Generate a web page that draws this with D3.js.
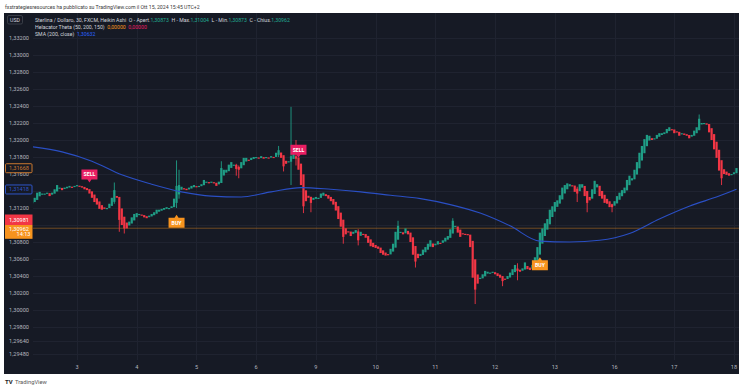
<!DOCTYPE html>
<html>
<head>
<meta charset="utf-8">
<script src="https://cdn.jsdelivr.net/npm/d3@7"></script>
<style>
	html, body { margin: 0; padding: 0; background: #fff; }
	svg { display: block; font-family: Roboto, "Noto Sans", sans-serif; }
</style>
</head>
<body>
<svg id="chart" width="743" height="390"></svg>
<script>
// Heikin Ashi closes, one per hour, Sep 2 06:00 -> Sep 18 01:00
const closes = [
	// 2
	1.3127, 1.3132, 1.3138, 1.3139, 1.3137, 1.3137, 1.3138, 1.3134, 1.3138, 1.3142, 1.3147, 1.3144, 1.3141, 1.3144, 1.3145, 1.3146, 1.3145, 1.3146,
	// 3
	1.3147, 1.3145, 1.3144, 1.3142, 1.3141, 1.3137, 1.3132, 1.3127, 1.3124, 1.3119, 1.3118, 1.3119, 1.3120, 1.3125, 1.3132, 1.3141, 1.3132, 1.3106, 1.3100, 1.3096, 1.3096, 1.3104, 1.3109, 1.3113,
	// 4
	1.3114, 1.3113, 1.3111, 1.3109, 1.3108, 1.3111, 1.3113, 1.3115, 1.3118, 1.3118, 1.3119, 1.3120, 1.3121, 1.3120, 1.3122, 1.3131, 1.3146, 1.3147, 1.3145, 1.3142, 1.3141, 1.3144, 1.3146, 1.3147,
	// 5
	1.3145, 1.3146, 1.3148, 1.3153, 1.3151, 1.3149, 1.3151, 1.3149, 1.3146, 1.3151, 1.3167, 1.3165, 1.3165, 1.3171, 1.3174, 1.3171, 1.3166, 1.3165, 1.3174, 1.3179, 1.3179, 1.3176, 1.3179, 1.3180,
	// 6
	1.3180, 1.3178, 1.3181, 1.3178, 1.3180, 1.3179, 1.3181, 1.3180, 1.3185, 1.3188, 1.3179, 1.3169, 1.3172, 1.3175, 1.3181, 1.3184, 1.3178, 1.3165, 1.3147, 1.3122, 1.3128, 1.3132, 1.3126, 1.3132,
	// 9
	1.3133, 1.3132, 1.3137, 1.3138, 1.3134, 1.3131, 1.3128, 1.3124, 1.3117, 1.3107, 1.3098, 1.3086, 1.3089, 1.3092, 1.3087, 1.3092, 1.3094, 1.3082, 1.3092, 1.3089, 1.3085, 1.3079, 1.3075, 1.3074,
	// 10
	1.3073, 1.3072, 1.3067, 1.3065, 1.3064, 1.3065, 1.3072, 1.3078, 1.3092, 1.3099, 1.3092, 1.3089, 1.3096, 1.3089, 1.3080, 1.3065, 1.3057, 1.3061, 1.3066, 1.3071, 1.3074, 1.3078, 1.3082, 1.3074,
	// 11
	1.3078, 1.3081, 1.3079, 1.3082, 1.3085, 1.3087, 1.3095, 1.3105, 1.3099, 1.3091, 1.3086, 1.3089, 1.3089, 1.3088, 1.3074, 1.3038, 1.3024, 1.3031, 1.3038, 1.3042, 1.3046, 1.3045, 1.3044, 1.3045,
	// 12
	1.3042, 1.3040, 1.3038, 1.3034, 1.3036, 1.3040, 1.3044, 1.3048, 1.3053, 1.3046, 1.3045, 1.3049, 1.3056, 1.3048, 1.3047, 1.3053, 1.3062, 1.3074, 1.3091, 1.3096, 1.3102, 1.3107, 1.3118, 1.3122,
	// 13
	1.3127, 1.3129, 1.3135, 1.3144, 1.3147, 1.3149, 1.3148, 1.3146, 1.3139, 1.3137, 1.3148, 1.3148, 1.3134, 1.3126, 1.3129, 1.3142, 1.3152, 1.3148, 1.3134, 1.3131, 1.3126, 1.3125, 1.3121, 1.3121,
	// 16
	1.3128, 1.3134, 1.3138, 1.3141, 1.3144, 1.3153, 1.3158, 1.3155, 1.3165, 1.3174, 1.3185, 1.3193, 1.3201, 1.3206, 1.3205, 1.3200, 1.3202, 1.3206, 1.3208, 1.3208, 1.3209, 1.3213, 1.3215, 1.3212,
	// 17
	1.3208, 1.3209, 1.3205, 1.3208, 1.3206, 1.3205, 1.3202, 1.3206, 1.3211, 1.3215, 1.3225, 1.3220, 1.3220, 1.3218, 1.3209, 1.3200, 1.3189, 1.3179, 1.3164, 1.3155, 1.3160, 1.3159, 1.3158, 1.3160,
	// 18
	1.3162, 1.3167
];

// [bar, high, low] for the visible wicks
const wicks = [
	[33, 1.3150, 1.3125], [35, 1.3120, 1.3092], [37, 1.3100, 1.3090], [58, 1.3176, 1.3120],
	[59, 1.3165, 1.3131], [76, 1.3175, 1.3150], [82, 1.3172, 1.3158], [83, 1.3170, 1.3155],
	[99, 1.3193, 1.3180], [101, 1.3180, 1.3163], [104, 1.3239, 1.3147], [106, 1.3200, 1.3170],
	[109, 1.3140, 1.3114], [112, 1.3132, 1.3115], [125, 1.3095, 1.3078], [131, 1.3095, 1.3076],
	[147, 1.3105, 1.3090], [154, 1.3065, 1.3050], [169, 1.3108, 1.3095], [178, 1.3040, 1.3007],
	[189, 1.3040, 1.3028], [195, 1.3055, 1.3035], [219, 1.3145, 1.3127], [223, 1.3133, 1.3115],
	[233, 1.3125, 1.3115], [268, 1.3230, 1.3215], [277, 1.3162, 1.3147]
];

// SMA(200) read every 12 bars: [bar, value]
const smaPoints = [
	[0, 1.3192], [12, 1.3186], [24, 1.3175], [36, 1.3159], [48, 1.3148], [60, 1.3139],
	[72, 1.3134], [84, 1.3133], [96, 1.3139], [108, 1.3144], [120, 1.3142], [132, 1.3139],
	[144, 1.3135], [156, 1.3131], [168, 1.3124], [180, 1.3114], [192, 1.3099], [204, 1.3081],
	[216, 1.3080], [228, 1.3082], [240, 1.3090], [252, 1.3107], [264, 1.3122], [276, 1.3134],
	[283, 1.3142]
];

const signals = [
	{ bar: 23, price: 1.3150, type: "SELL" },
	{ bar: 58, price: 1.3112, type: "BUY" },
	{ bar: 107, price: 1.3179, type: "SELL" },
	{ bar: 204, price: 1.3062, type: "BUY" }
];

const dayLabels = ["3", "4", "5", "6", "9", "10", "11", "12", "13", "16", "17", "18"];
const firstDayBar = 18, barsPerDay = 24;
const priceTicks = [1.332, 1.330, 1.328, 1.326, 1.324, 1.322, 1.320, 1.318, 1.316, 1.314, 1.312, 1.310,
	1.308, 1.306, 1.304, 1.302, 1.300, 1.298, 1.2964, 1.2948];
// these two sit under the tags on the price scale
const hiddenTicks = [1.314, 1.310];

const lastPrice = 1.30962;
const scaleTags = [
	{ value: "1,31668", price: 1.31668, color: "#c9782f" },
	{ value: "1,31418", price: 1.31418, color: "#2f55c8" }
];

const COL = {
	bg: "#161a25", grid: "#1f2330", text: "#b2b5be", label: "#d1d4dc",
	up: "#1f9e86", down: "#f23645", sma: "#2a4fc4", buy: "#f7931e", sell: "#e91e63",
	green: "#22ab94", orange: "#f7931e", pink: "#e91e63", blue: "#2962ff"
};

const svg = d3.select("#chart");
const W = 743, H = 390;
const panel = { x: 4, y: 13, w: 735, h: 361 };
const plot = { left: 33, right: 739, top: 13, bottom: 360 };
const fs = "5.6px";

const fmt = v => d3.format(".5f")(v).replace(".", ",");

const x = d3.scaleLinear().domain([18, 282]).range([77, 734]);
const y = d3.scaleLinear().domain([1.2948, 1.3320]).range([354.2, 38]);

svg.append("rect").attr("width", W).attr("height", H).attr("fill", "#fff");
svg.append("rect")
	.attr("x", panel.x).attr("y", panel.y).attr("width", panel.w).attr("height", panel.h)
	.attr("fill", COL.bg);

svg.append("defs").append("clipPath").attr("id", "plotclip")
	.append("rect")
	.attr("x", plot.left).attr("y", plot.top)
	.attr("width", plot.right - plot.left).attr("height", plot.bottom - plot.top);

// grid
const grid = svg.append("g").attr("stroke", COL.grid).attr("stroke-width", 1);
grid.selectAll("line.h").data(priceTicks).join("line")
	.attr("class", "h")
	.attr("x1", plot.left).attr("x2", plot.right)
	.attr("y1", d => Math.round(y(d)) + 0.5).attr("y2", d => Math.round(y(d)) + 0.5);
grid.selectAll("line.v").data(dayLabels).join("line")
	.attr("class", "v")
	.attr("x1", (d, i) => Math.round(x(firstDayBar + i * barsPerDay)) + 0.5)
	.attr("x2", (d, i) => Math.round(x(firstDayBar + i * barsPerDay)) + 0.5)
	.attr("y1", plot.top).attr("y2", plot.bottom);

// price axis (left)
svg.append("g").selectAll("text").data(priceTicks.filter(d => !hiddenTicks.includes(d))).join("text")
	.attr("x", 9).attr("y", d => y(d))
	.attr("dy", "0.35em")
	.attr("font-size", fs).attr("fill", COL.text)
	.text(fmt);

// day axis
svg.append("g").selectAll("text").data(dayLabels).join("text")
	.attr("x", (d, i) => x(firstDayBar + i * barsPerDay)).attr("y", 367)
	.attr("dy", "0.35em").attr("text-anchor", "middle")
	.attr("font-size", fs).attr("fill", COL.text)
	.text(d => d);

const plotG = svg.append("g").attr("clip-path", "url(#plotclip)");

// last price line
plotG.append("line")
	.attr("x1", plot.left).attr("x2", plot.right)
	.attr("y1", y(lastPrice)).attr("y2", y(lastPrice))
	.attr("stroke", "#f7931e").attr("stroke-opacity", 0.4).attr("stroke-width", 1);

// Heikin Ashi candles
const candles = [];
closes.forEach((c, i) => {
	const prev = candles[i - 1];
	const o = prev ? (prev.o + prev.c) / 2 : c;
	candles.push({ i, o, c });
});
const wickMap = new Map(wicks.map(w => [w[0], w]));

const bw = 2.2;
plotG.append("g").selectAll("line").data(candles.filter(d => wickMap.has(d.i))).join("line")
	.attr("x1", d => x(d.i)).attr("x2", d => x(d.i))
	.attr("y1", d => y(wickMap.get(d.i)[1])).attr("y2", d => y(wickMap.get(d.i)[2]))
	.attr("stroke", d => d.c >= d.o ? COL.up : COL.down)
	.attr("stroke-width", 0.9);
plotG.append("g").selectAll("rect").data(candles).join("rect")
	.attr("x", d => x(d.i) - bw / 2)
	.attr("width", bw)
	.attr("y", d => y(Math.max(d.o, d.c)))
	.attr("height", d => Math.max(1.2, Math.abs(y(d.o) - y(d.c))))
	.attr("fill", d => d.c >= d.o ? COL.up : COL.down);

// SMA
const smaLine = d3.line()
	.x(d => x(d[0])).y(d => y(d[1]))
	.curve(d3.curveMonotoneX);
plotG.append("path").datum(smaPoints)
	.attr("d", smaLine)
	.attr("fill", "none").attr("stroke", COL.sma).attr("stroke-width", 1.1);

// BUY / SELL markers
const sig = plotG.append("g").selectAll("g").data(signals).join("g")
	.attr("transform", d => `translate(${x(d.bar)}, ${y(d.price)})`);
sig.append("path")
	.attr("d", d => d.type === "SELL"
		? "M-8,-13 h16 v10 h-6 l-2,3 l-2,-3 h-6 z"
		: "M-8,3 h6 l2,-3 l2,3 h6 v10 h-16 z")
	.attr("fill", d => d.type === "SELL" ? COL.sell : COL.buy);
sig.append("text")
	.attr("y", d => d.type === "SELL" ? -8 : 8)
	.attr("dy", "0.35em").attr("text-anchor", "middle")
	.attr("font-size", "5.2px").attr("font-weight", "bold").attr("fill", "#fff")
	.text(d => d.type);

// price scale tags
const tagG = svg.append("g");
scaleTags.forEach(t => {
	const ty = y(t.price);
	tagG.append("rect")
		.attr("x", 5.5).attr("y", ty - 4.5).attr("width", 26.5).attr("height", 9).attr("rx", 1)
		.attr("fill", COL.bg).attr("stroke", t.color).attr("stroke-width", 1);
	tagG.append("text")
		.attr("x", 9).attr("y", ty).attr("dy", "0.35em")
		.attr("font-size", fs).attr("fill", t.color)
		.text(t.value);
});
tagG.append("rect")
	.attr("x", 5).attr("y", 214.5).attr("width", 27.5).attr("height", 10.5)
	.attr("fill", COL.down);
tagG.append("text")
	.attr("x", 9).attr("y", 219.8).attr("dy", "0.35em")
	.attr("font-size", fs).attr("fill", "#fff").text("1,30981");
tagG.append("rect")
	.attr("x", 5).attr("y", 225).attr("width", 27.5).attr("height", 13.8)
	.attr("fill", COL.orange);
tagG.append("text")
	.attr("x", 9).attr("y", 228.8).attr("dy", "0.35em")
	.attr("font-size", fs).attr("fill", "#fff").text(fmt(lastPrice));
tagG.append("text")
	.attr("x", 30.5).attr("y", 234.3).attr("dy", "0.35em").attr("text-anchor", "end")
	.attr("font-size", fs).attr("fill", "#fff").text("14:13");

// legend
const leg = svg.append("g").attr("font-size", "5.2px");
leg.append("rect")
	.attr("x", 7.5).attr("y", 15.5).attr("width", 15).attr("height", 8.5).attr("rx", 1.5)
	.attr("fill", COL.bg).attr("stroke", "#434651").attr("stroke-width", 0.8);
leg.append("text").attr("x", 15).attr("y", 20).attr("dy", "0.35em")
	.attr("text-anchor", "middle").attr("fill", COL.label).text("USD");

const legendRows = [
	[
		["Sterlina / Dollaro, 30, FXCM, Heikin Ashi  O - Apert.", COL.label], ["1,30873", COL.green],
		["  H - Max.", COL.label], ["1,31004", COL.green],
		["  L - Min.", COL.label], ["1,30873", COL.green],
		["  C - Chius.", COL.label], ["1,30962", COL.green]
	],
	[["Helacator Theta (50, 200, 150)  ", COL.label], ["0,00000", COL.orange], ["  ", COL.label], ["0,00000", COL.pink]],
	[["SMA (200, close)  ", COL.label], ["1,30632", COL.blue]]
];
legendRows.forEach((row, r) => {
	const t = leg.append("text")
		.attr("x", 35).attr("y", 20 + r * 7).attr("dy", "0.35em")
		.attr("xml:space", "preserve");
	row.forEach(([s, c]) => t.append("tspan").attr("fill", c).text(s));
});

// header / footer
svg.append("text")
	.attr("x", 5).attr("y", 7).attr("dy", "0.35em")
	.attr("font-size", "5.2px").attr("fill", "#3a3a3a")
	.text("fxstrategiesresources ha pubblicato su TradingView.com il Ott 15, 2024 15:45 UTC+2");
svg.append("text")
	.attr("x", 5).attr("y", 382).attr("dy", "0.35em")
	.attr("font-size", "6px").attr("font-weight", "bold").attr("fill", "#222")
	.text("TV");
svg.append("text")
	.attr("x", 15).attr("y", 382).attr("dy", "0.35em")
	.attr("font-size", "5.8px").attr("fill", "#555")
	.text("TradingView");
</script>
</body>
</html>
